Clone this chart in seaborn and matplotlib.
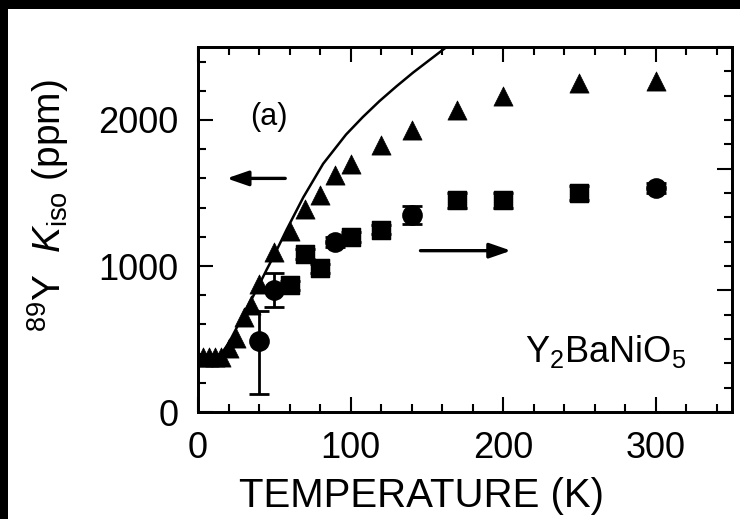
import numpy as np
import pandas as pd
import seaborn as sns
import matplotlib
matplotlib.use("Agg")
import matplotlib.pyplot as plt
from matplotlib.patches import Rectangle
from matplotlib.ticker import MultipleLocator, NullFormatter

# 89Y isotropic Knight shift (left axis, ppm)
k_temp = [3, 7, 11, 15, 20, 25, 30, 35, 40, 50, 60, 70, 80, 90, 100, 120, 140, 170, 200, 250, 300]
k_iso = [378, 378, 380, 378, 441, 510, 648, 731, 876, 1097, 1241, 1393, 1483, 1621, 1697,
         1828, 1931, 2069, 2166, 2255, 2269]

# second quantity (right axis, arbitrary units)
r_temp_circ = [40, 50, 90, 140, 300]
r_val_circ = [0.29, 0.50, 0.70, 0.81, 0.92]
r_err_lo_circ = [0.215, 0.07, 0.02, 0.037, 0.02]
r_err_hi_circ = [0.125, 0.07, 0.02, 0.037, 0.02]
r_temp_sq = [60, 70, 80, 100, 120, 170, 200, 250]
r_val_sq = [0.52, 0.65, 0.59, 0.72, 0.75, 0.87, 0.87, 0.90]
r_err_sq = [0.02, 0.02, 0.02, 0.02, 0.02, 0.03, 0.03, 0.03]

# model curve for the Knight shift
curve_t = [0, 5, 10, 13, 16, 20, 25, 30, 35, 40, 45, 50, 58, 69, 82, 97, 108, 119,
           130, 141, 151, 161, 163]
curve_k = [372, 372, 375, 385, 410, 470, 570, 670, 770, 870, 975, 1075, 1247, 1470, 1700,
           1900, 2020, 2130, 2230, 2325, 2405, 2485, 2500]

sns.set_style("ticks")
plt.rcParams['font.family'] = ['Liberation Sans', 'DejaVu Sans']
plt.rcParams['mathtext.fontset'] = 'custom'
plt.rcParams['mathtext.rm'] = 'Liberation Sans'
plt.rcParams['mathtext.it'] = 'Liberation Sans:italic'
for key in ("text.color", "axes.labelcolor", "xtick.color", "ytick.color", "axes.edgecolor"):
    plt.rcParams[key] = "black"

fig = plt.figure(figsize=(7.4, 5.19), dpi=100)
fig.patch.set_facecolor("white")
ax = fig.add_axes([198 / 740, 1 - 412 / 519, (732 - 198) / 740, (412 - 47) / 519])

df_k = pd.DataFrame({"T": k_temp, "K": k_iso})
df_c = pd.DataFrame({"T": curve_t, "K": curve_k})

sns.lineplot(data=df_c, x="T", y="K", ax=ax, color="black", lw=1.8, sort=True)
sns.scatterplot(data=df_k, x="T", y="K", ax=ax, marker="^", s=190, color="black",
                edgecolor="black", linewidth=0.5, zorder=4)

ax.set_xlim(0, 350)
ax.set_ylim(0, 2500)
ax.xaxis.set_major_locator(MultipleLocator(100))
ax.xaxis.set_minor_locator(MultipleLocator(20))
ax.yaxis.set_major_locator(MultipleLocator(1000))
ax.yaxis.set_minor_locator(MultipleLocator(200))
ax.tick_params(which="both", direction="in", top=True, right=False, width=1.5)
ax.tick_params(which="major", length=11, labelsize=26, pad=14)
ax.tick_params(which="minor", length=6)
for sp in ax.spines.values():
    sp.set_linewidth(2)

ax.set_xlabel("TEMPERATURE (K)", fontsize=29)
ax.xaxis.set_label_coords(0.418, -0.178)
ax.set_ylabel(r"$^{89}$Y  $\it{K}_{\rm iso}$ (ppm)", fontsize=28)
ax.yaxis.set_label_coords(-0.238, 0.565)

# right axis
ax2 = ax.twinx()
ax2.set_ylim(0, 1.5)
ax2.yaxis.set_major_locator(MultipleLocator(0.5))
ax2.yaxis.set_minor_locator(MultipleLocator(0.1))
ax2.yaxis.set_major_formatter(NullFormatter())
ax2.tick_params(which="both", direction="in", width=1.5)
ax2.tick_params(which="major", length=11)
ax2.tick_params(which="minor", length=6)
for sp in ax2.spines.values():
    sp.set_linewidth(2)

ax2.errorbar(r_temp_circ, r_val_circ, yerr=[r_err_lo_circ, r_err_hi_circ], fmt="none",
             ecolor="black", elinewidth=2, capsize=7, capthick=2, zorder=3)
ax2.errorbar(r_temp_sq, r_val_sq, yerr=r_err_sq, fmt="none", ecolor="black",
             elinewidth=2, capsize=7, capthick=2, zorder=3)
sns.scatterplot(x=r_temp_circ, y=r_val_circ, ax=ax2, marker="o", s=190, color="black",
                edgecolor="black", zorder=4)
sns.scatterplot(x=r_temp_sq, y=r_val_sq, ax=ax2, marker="s", s=170, color="black",
                edgecolor="black", zorder=4)
ax2.set_ylabel("")

# arrows pointing to the relevant axes
arrow_style = "-|>,head_length=1.3,head_width=0.45"
ax.annotate("", xy=(17, 1600), xytext=(59, 1600),
            arrowprops=dict(arrowstyle=arrow_style, color="black", lw=2.4))
ax.annotate("", xy=(207, 1105), xytext=(144, 1105),
            arrowprops=dict(arrowstyle=arrow_style, color="black", lw=2.4))

ax.text(46.5, 2020, "(a)", fontsize=22, ha="center", va="center")
ax.text(267, 412, r"Y$_2$BaNiO$_5$", fontsize=26, ha="center", va="center")

# black edge along the top and left of the image
fig.add_artist(Rectangle((0, 1 - 9 / 519), 1, 9 / 519, transform=fig.transFigure,
                         facecolor="black", edgecolor="none"))
fig.add_artist(Rectangle((0, 0), 8 / 740, 1, transform=fig.transFigure,
                         facecolor="black", edgecolor="none"))

fig.savefig("out.png", dpi=100)
